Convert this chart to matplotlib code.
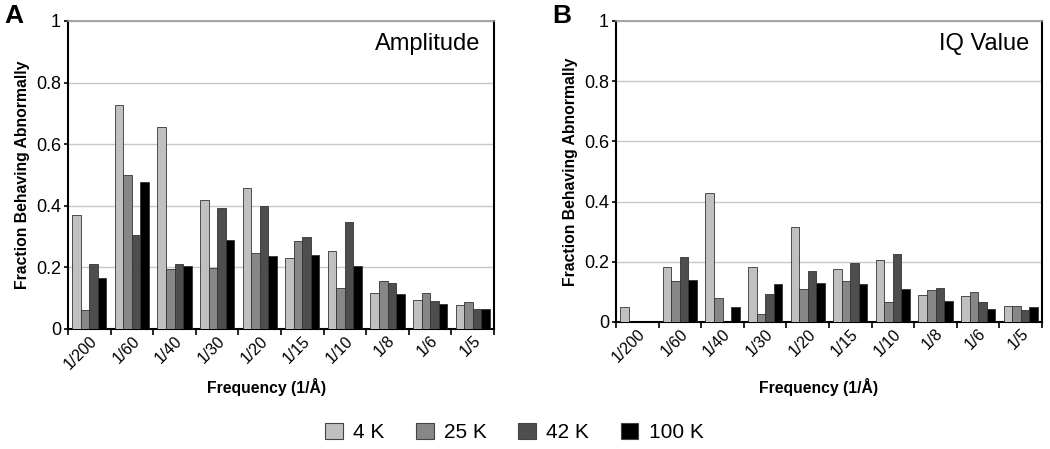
import numpy as np
import matplotlib
matplotlib.use('Agg')
import matplotlib.pyplot as plt
from matplotlib.patches import Patch

plt.rcParams['font.family'] = ['Liberation Sans', 'DejaVu Sans']

freqs = ['1/200', '1/60', '1/40', '1/30', '1/20', '1/15', '1/10', '1/8', '1/6', '1/5']
temps = ['4 K', '25 K', '42 K', '100 K']
colors = ['#c0c0c0', '#878787', '#4e4e4e', '#000000']

# Panel A - amplitude
amp_4k = [0.369, 0.728, 0.657, 0.418, 0.457, 0.230, 0.254, 0.117, 0.093, 0.077]
amp_25k = [0.062, 0.500, 0.195, 0.199, 0.246, 0.285, 0.133, 0.157, 0.118, 0.089]
amp_42k = [0.210, 0.305, 0.210, 0.392, 0.400, 0.298, 0.348, 0.150, 0.091, 0.065]
amp_100k = [0.166, 0.476, 0.204, 0.289, 0.238, 0.240, 0.203, 0.112, 0.080, 0.064]

# Panel B - IQ value
iq_4k = [0.051, 0.181, 0.428, 0.184, 0.316, 0.177, 0.207, 0.091, 0.085, 0.053]
iq_25k = [0.0, 0.135, 0.081, 0.028, 0.110, 0.137, 0.066, 0.105, 0.100, 0.052]
iq_42k = [0.0, 0.217, 0.0, 0.092, 0.171, 0.197, 0.227, 0.113, 0.067, 0.041]
iq_100k = [0.0, 0.140, 0.049, 0.127, 0.129, 0.126, 0.108, 0.070, 0.044, 0.049]

fig = plt.figure(figsize=(10.5, 4.49), dpi=100)
axA = fig.add_axes([0.0648, 0.2673, 0.4057, 0.686])
axB = fig.add_axes([0.5867, 0.2829, 0.4057, 0.6704])


def draw(ax, series, title, title_y):
    x = np.arange(len(freqs))
    w = 0.2
    for i, vals in enumerate(series):
        ax.bar(x + (i - 1.5) * w, vals, width=w, color=colors[i],
               edgecolor='#333333', linewidth=0.6, zorder=3)
    ax.set_xlim(-0.5, len(freqs) - 0.5)
    ax.set_ylim(0, 1)
    ax.set_yticks([0, 0.2, 0.4, 0.6, 0.8, 1])
    ax.set_yticklabels(['0', '0.2', '0.4', '0.6', '0.8', '1'], fontsize=13)
    ax.yaxis.grid(True, color='#c8c8c8', linewidth=1, zorder=0)
    ax.set_xticks(x)
    ax.set_xticklabels(freqs, rotation=45, ha='right', rotation_mode='anchor', fontsize=11.5)
    ax.tick_params(axis='x', which='major', length=0, pad=3)
    ax.set_xticks(np.arange(-0.5, len(freqs)), minor=True)
    ax.tick_params(axis='x', which='minor', length=4, width=1.2, direction='out')
    ax.tick_params(axis='y', length=3, width=1.2, direction='out', pad=2)
    for s in ['left', 'bottom', 'right']:
        ax.spines[s].set_linewidth(1.5)
        ax.spines[s].set_color('black')
    ax.spines['top'].set_color('#9a9a9a')
    ax.spines['top'].set_linewidth(1.2)
    ax.set_ylabel('Fraction Behaving Abnormally', fontsize=11.3, fontweight='bold')
    ax.yaxis.set_label_coords(-0.09, 0.5)
    ax.text(0.969, title_y, title, transform=ax.transAxes, ha='right', va='baseline', fontsize=17)


draw(axA, [amp_4k, amp_25k, amp_42k, amp_100k], 'Amplitude', 0.906)
draw(axB, [iq_4k, iq_25k, iq_42k, iq_100k], 'IQ Value', 0.904)

fig.text(0.004, 0.949, 'A', ha='left', va='baseline', fontsize=19, fontweight='bold')
fig.text(0.526, 0.949, 'B', ha='left', va='baseline', fontsize=19, fontweight='bold')

fig.text(0.254, 0.138, 'Frequency (1/Å)', ha='center', va='center', fontsize=11.3, fontweight='bold')
fig.text(0.7795, 0.138, 'Frequency (1/Å)', ha='center', va='center', fontsize=11.3, fontweight='bold')

handles = [Patch(facecolor=c, edgecolor='#444444', linewidth=0.8) for c in colors]
fig.legend(handles, temps, loc='center', bbox_to_anchor=(0.49, 0.037), ncol=4, frameon=False,
           fontsize=15, handlelength=0.85, handleheight=0.85, columnspacing=1.5, handletextpad=0.5)

fig.savefig('out.png', dpi=100)
